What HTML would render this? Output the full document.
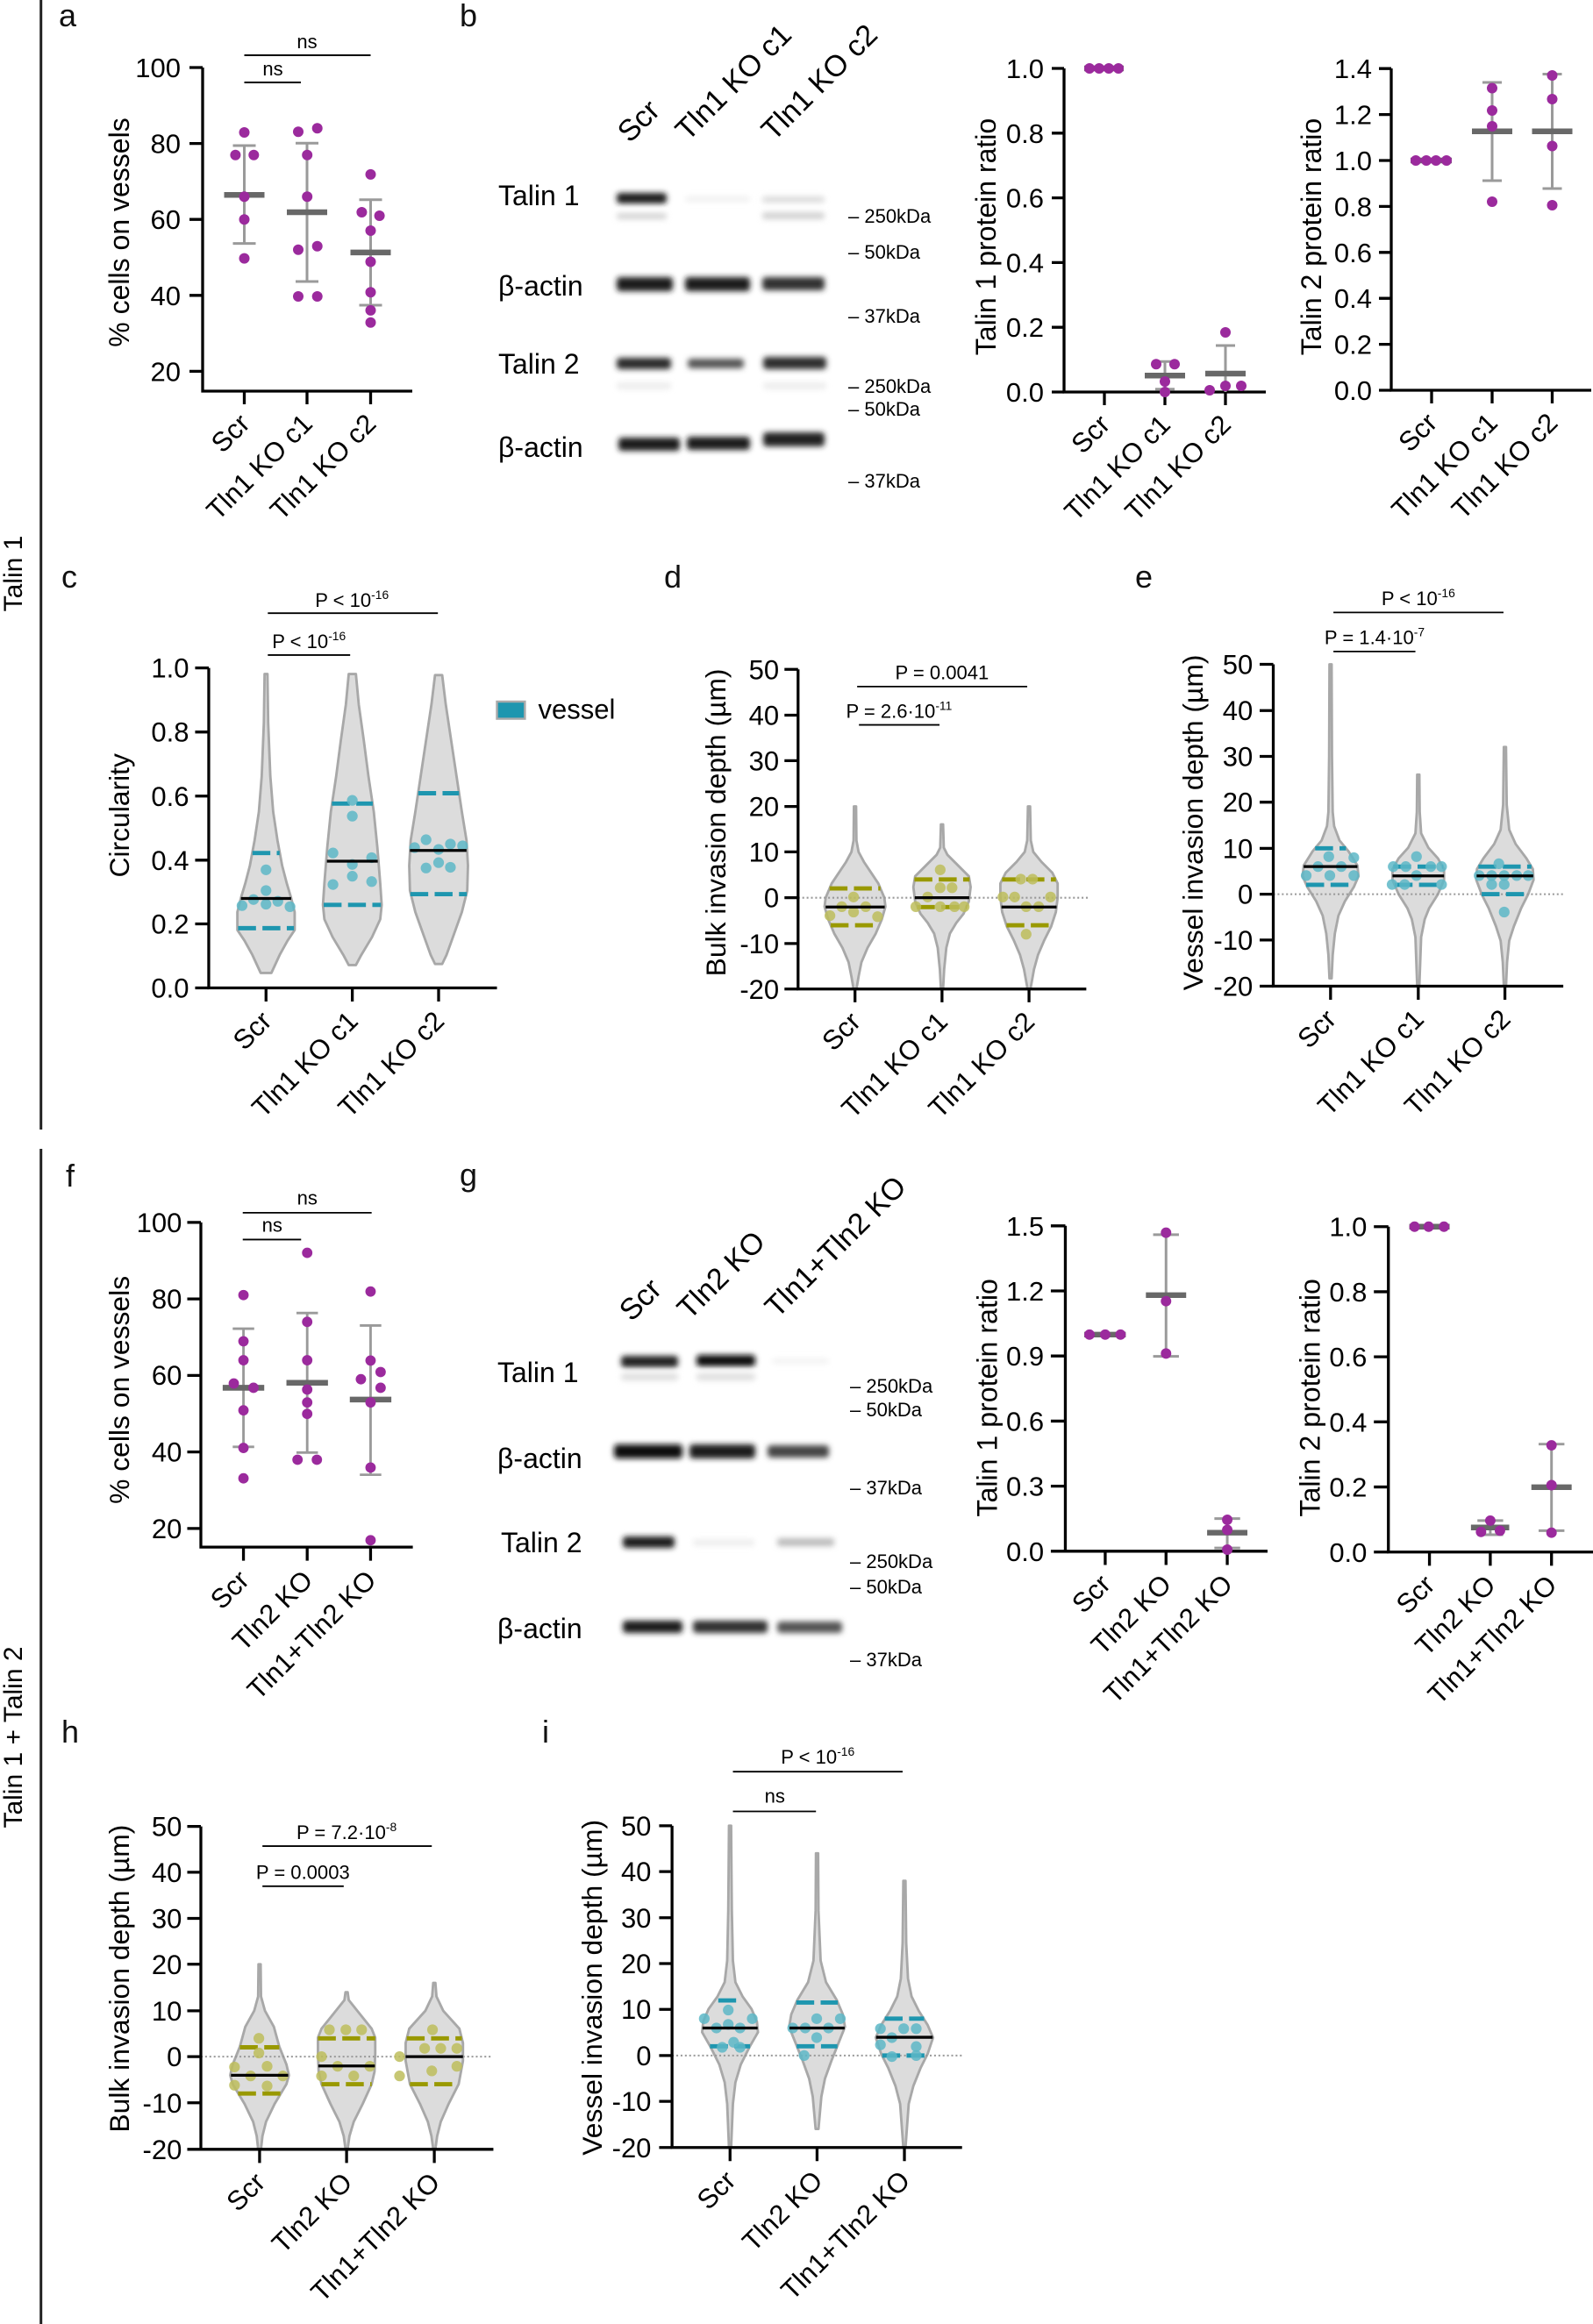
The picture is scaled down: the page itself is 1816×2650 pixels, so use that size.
<!DOCTYPE html>
<html><head><meta charset="utf-8"><style>
html,body{margin:0;padding:0;background:#fff;}
svg{display:block;font-family:"Liberation Sans",Arial,sans-serif;}
</style></head><body>
<svg width="1816" height="2650" viewBox="0 0 1816 2650" xmlns="http://www.w3.org/2000/svg">
<defs>
<filter id="bl" x="-30%" y="-150%" width="160%" height="400%"><feGaussianBlur stdDeviation="3.2"/></filter>
</defs>
<rect width="1816" height="2650" fill="#fff"/>

<!-- separators & side labels -->
<line x1="46.7" y1="0" x2="46.7" y2="1288" stroke="#222" stroke-width="3"/>
<line x1="46.7" y1="1310" x2="46.7" y2="2650" stroke="#222" stroke-width="3"/>
<text transform="translate(25,654) rotate(-90)" text-anchor="middle" font-size="30">Talin 1</text>
<text transform="translate(25,1981) rotate(-90)" text-anchor="middle" font-size="30">Talin 1 + Talin 2</text>

<!-- panel letters -->
<g font-size="36" fill="#111">
<text x="67" y="30">a</text><text x="524" y="30">b</text>
<text x="70" y="670">c</text><text x="757" y="670">d</text><text x="1294" y="670">e</text>
<text x="75" y="1353">f</text><text x="524" y="1352">g</text>
<text x="70" y="1987">h</text><text x="618" y="1987">i</text>
</g>

<!-- ================= PANEL A ================= -->
<g>
<g stroke="#000" stroke-width="3.3" fill="none">
<path d="M231,77 V446 H470"/>
<path d="M216,77 H231 M216,163.6 H231 M216,250.2 H231 M216,336.8 H231 M216,423.4 H231"/>
<path d="M278.5,446 V461 M350,446 V461 M422.5,446 V461"/>
</g>
<g font-size="31" text-anchor="end">
<text x="206" y="88">100</text><text x="206" y="174.6">80</text><text x="206" y="261.2">60</text><text x="206" y="347.8">40</text><text x="206" y="434.4">20</text>
<text transform="translate(286.5,485) rotate(-45)">Scr</text>
<text transform="translate(358,485) rotate(-45)">Tln1 KO c1</text>
<text transform="translate(430.5,485) rotate(-45)">Tln1 KO c2</text>
</g>
<text transform="translate(147,265) rotate(-90)" text-anchor="middle" font-size="32">% cells on vessels</text>
<path d="M278.5,63 H422.5 M278.5,94 H343" stroke="#000" stroke-width="2"/>
<g font-size="22" text-anchor="middle"><text x="350" y="55">ns</text><text x="311" y="86">ns</text></g>
<g stroke="#9a9a9a" stroke-width="3" fill="none">
<path d="M278.5,166 V277.6 M265.5,166 H291.5 M265.5,277.6 H291.5"/>
<path d="M350,163.3 V321 M337,163.3 H363 M337,321 H363"/>
<path d="M422.5,227.8 V348 M409.5,227.8 H435.5 M409.5,348 H435.5"/>
</g>
<g stroke="#686868" stroke-width="6.5">
<path d="M255.5,222.2 H301.5 M327,242 H373 M399.5,287.9 H445.5"/>
</g>
<g fill="#9b2a9d">
<circle cx="278.5" cy="151" r="6"/><circle cx="268.4" cy="176.7" r="6"/><circle cx="289.3" cy="176.7" r="6"/><circle cx="278.5" cy="224.2" r="6"/><circle cx="278.5" cy="250.3" r="6"/><circle cx="278.5" cy="294.6" r="6"/>
<circle cx="340" cy="150.3" r="6"/><circle cx="361.7" cy="146.3" r="6"/><circle cx="350.2" cy="176.7" r="6"/><circle cx="350.2" cy="224.2" r="6"/><circle cx="340" cy="284.7" r="6"/><circle cx="361.7" cy="280.7" r="6"/><circle cx="340" cy="338" r="6"/><circle cx="361.7" cy="338" r="6"/>
<circle cx="422.5" cy="198.9" r="6"/><circle cx="412.4" cy="242" r="6"/><circle cx="432.6" cy="246" r="6"/><circle cx="422.5" cy="263" r="6"/><circle cx="422.5" cy="298.5" r="6"/><circle cx="422.5" cy="333.3" r="6"/><circle cx="422.5" cy="353.9" r="6"/><circle cx="422.5" cy="367.7" r="6"/>
</g>
</g>

<!-- ================= PANEL B BLOT ================= -->
<g>
<g font-size="34">
<text transform="translate(718,164) rotate(-45)">Scr</text>
<text transform="translate(784,162) rotate(-45)">Tln1 KO c1</text>
<text transform="translate(882,162) rotate(-45)">Tln1 KO c2</text>
</g>
<g font-size="32">
<text x="568" y="234">Talin 1</text>
<text x="568" y="337">β-actin</text>
<text x="568" y="426">Talin 2</text>
<text x="568" y="521">β-actin</text>
</g>
<g font-size="22">
<text x="967" y="254">– 250kDa</text>
<text x="967" y="295">– 50kDa</text>
<text x="967" y="368">– 37kDa</text>
<text x="967" y="448">– 250kDa</text>
<text x="967" y="474">– 50kDa</text>
<text x="967" y="556">– 37kDa</text>
</g>
<g filter="url(#bl)">
<rect x="703" y="220" width="57" height="12" rx="4" fill="#1a1a1a"/>
<rect x="703" y="243" width="57" height="7" rx="3" fill="#d4d4d4"/>
<rect x="781" y="224" width="74" height="6" rx="3" fill="#f0f0f0"/>
<rect x="869" y="224" width="71" height="7" rx="3" fill="#dadada"/>
<rect x="869" y="242" width="71" height="8" rx="3" fill="#d2d2d2"/>
<rect x="703" y="316" width="64" height="16" rx="4" fill="#1c1c1c"/>
<rect x="781" y="316" width="74" height="16" rx="4" fill="#1a1a1a"/>
<rect x="869" y="316" width="71" height="15" rx="4" fill="#333"/>
<rect x="703" y="408" width="62" height="13" rx="4" fill="#2a2a2a"/>
<rect x="784" y="409" width="64" height="11" rx="4" fill="#555"/>
<rect x="870" y="407" width="72" height="14" rx="4" fill="#2f2f2f"/>
<rect x="703" y="436" width="62" height="8" rx="3" fill="#ededed"/>
<rect x="870" y="436" width="72" height="8" rx="3" fill="#ededed"/>
<rect x="705" y="499" width="70" height="15" rx="4" fill="#1a1a1a"/>
<rect x="783" y="498" width="72" height="15" rx="4" fill="#1e1e1e"/>
<rect x="870" y="493" width="70" height="16" rx="4" fill="#222"/>
</g>
</g>

<!-- ================= PANEL B TALIN 1 CHART ================= -->
<g>
<g stroke="#000" stroke-width="3.3" fill="none">
<path d="M1213,78 V447 H1443"/>
<path d="M1199,78 H1213 M1199,151.8 H1213 M1199,225.6 H1213 M1199,299.4 H1213 M1199,373.2 H1213 M1199,447 H1213"/>
<path d="M1259,447 V462 M1328,447 V462 M1397,447 V462"/>
</g>
<g font-size="31" text-anchor="end">
<text x="1190" y="89">1.0</text><text x="1190" y="162.8">0.8</text><text x="1190" y="236.6">0.6</text><text x="1190" y="310.4">0.4</text><text x="1190" y="384.2">0.2</text><text x="1190" y="458">0.0</text>
<text transform="translate(1267,486) rotate(-45)">Scr</text>
<text transform="translate(1336,486) rotate(-45)">Tln1 KO c1</text>
<text transform="translate(1405,486) rotate(-45)">Tln1 KO c2</text>
</g>
<text transform="translate(1135,270) rotate(-90)" text-anchor="middle" font-size="32">Talin 1 protein ratio</text>
<g stroke="#9a9a9a" stroke-width="3" fill="none">
<path d="M1328,412.3 V443.7 M1317,412.3 H1339 M1317,443.7 H1339"/>
<path d="M1397,394 V447 M1386,394 H1408"/>
</g>
<g stroke="#686868" stroke-width="6.5"><path d="M1305,428.2 H1351 M1374,426 H1420 M1236,78 H1281"/></g>
<g fill="#9b2a9d">
<circle cx="1242" cy="78" r="6"/><circle cx="1253" cy="78" r="6"/><circle cx="1264" cy="78" r="6"/><circle cx="1275" cy="78" r="6"/>
<circle cx="1318" cy="415.3" r="6"/><circle cx="1339" cy="415.3" r="6"/><circle cx="1328" cy="435" r="6"/><circle cx="1328" cy="447" r="6"/>
<circle cx="1397" cy="379" r="6"/><circle cx="1379" cy="445" r="6"/><circle cx="1397" cy="440" r="6"/><circle cx="1415" cy="440" r="6"/>
</g>
</g>

<!-- ================= PANEL B TALIN 2 CHART ================= -->
<g>
<g stroke="#000" stroke-width="3.3" fill="none">
<path d="M1586,78 V445 H1814"/>
<path d="M1572,78.2 H1586 M1572,130.6 H1586 M1572,183 H1586 M1572,235.4 H1586 M1572,287.8 H1586 M1572,340.2 H1586 M1572,392.6 H1586 M1572,445 H1586"/>
<path d="M1632,445 V460 M1701,445 V460 M1769.5,445 V460"/>
</g>
<g font-size="31" text-anchor="end">
<text x="1564" y="89">1.4</text><text x="1564" y="141.6">1.2</text><text x="1564" y="194">1.0</text><text x="1564" y="246.4">0.8</text><text x="1564" y="298.8">0.6</text><text x="1564" y="351.2">0.4</text><text x="1564" y="403.6">0.2</text><text x="1564" y="456">0.0</text>
<text transform="translate(1640,484) rotate(-45)">Scr</text>
<text transform="translate(1709,484) rotate(-45)">Tln1 KO c1</text>
<text transform="translate(1777.5,484) rotate(-45)">Tln1 KO c2</text>
</g>
<text transform="translate(1506,270) rotate(-90)" text-anchor="middle" font-size="32">Talin 2 protein ratio</text>
<g stroke="#9a9a9a" stroke-width="3" fill="none">
<path d="M1701,94 V206 M1690,94 H1712 M1690,206 H1712"/>
<path d="M1769.5,84.5 V215 M1758.5,84.5 H1780.5 M1758.5,215 H1780.5"/>
</g>
<g stroke="#686868" stroke-width="6.5"><path d="M1678,149.7 H1724 M1746.5,149.7 H1792.5 M1608,183 H1655"/></g>
<g fill="#9b2a9d">
<circle cx="1614" cy="183" r="6"/><circle cx="1626" cy="183" r="6"/><circle cx="1637" cy="183" r="6"/><circle cx="1649" cy="183" r="6"/>
<circle cx="1701" cy="100.5" r="6"/><circle cx="1701" cy="126" r="6"/><circle cx="1701" cy="144" r="6"/><circle cx="1701" cy="230" r="6"/>
<circle cx="1769.5" cy="86" r="6"/><circle cx="1769.5" cy="113" r="6"/><circle cx="1769.5" cy="166.5" r="6"/><circle cx="1769.5" cy="234" r="6"/>
</g>
</g>

<!-- ================= PANEL C ================= -->
<g transform="translate(40,640) scale(0.408163)">
<g fill="#dcdcdc" stroke="#a8a8a8" stroke-width="7" stroke-linejoin="round">
<path d="M641,315 L639,450 L633,600 L625,700 L613,780 L600,850 L587,900 L575,940 L565,980 L565,1030 L585,1060 L607,1100 L630,1150 L660,1150 L683,1100 L705,1060 L725,1030 L725,980 L715,940 L703,900 L690,850 L677,780 L665,700 L657,600 L651,450 L649,315 Z"/>
<path d="M876,315 L868,400 L854,500 L841,600 L826,700 L816,800 L808,900 L804,960 L808,1000 L831,1050 L861,1100 L876,1128 L896,1128 L911,1100 L941,1050 L964,1000 L968,960 L964,900 L956,800 L946,700 L931,600 L918,500 L904,400 L896,315 Z"/>
<path d="M1117,318 L1107,400 L1092,500 L1077,600 L1062,700 L1049,780 L1045,850 L1047,920 L1062,980 L1087,1050 L1105,1100 L1117,1125 L1137,1125 L1149,1100 L1167,1050 L1192,980 L1207,920 L1209,850 L1205,780 L1192,700 L1177,600 L1162,500 L1147,400 L1137,318 Z"/>
</g>
<g stroke="#1e96af" stroke-width="12" stroke-dasharray="50,18">
<path d="M607,815 H683 M567,1025 H723 M829,677 H943 M806,960 H966 M1070,648 H1184 M1048,930 H1206"/>
</g>
<g fill="#5db7c7" fill-opacity="0.85">
<circle cx="645" cy="862" r="15"/><circle cx="645" cy="920" r="15"/><circle cx="578" cy="962" r="15"/><circle cx="610" cy="945" r="15"/><circle cx="645" cy="958" r="15"/><circle cx="678" cy="950" r="15"/><circle cx="712" cy="965" r="15"/>
<circle cx="886" cy="668" r="15"/><circle cx="886" cy="712" r="15"/><circle cx="832" cy="815" r="15"/><circle cx="940" cy="828" r="15"/><circle cx="886" cy="847" r="15"/><circle cx="886" cy="880" r="15"/><circle cx="832" cy="903" r="15"/><circle cx="940" cy="895" r="15"/>
<circle cx="1092" cy="778" r="15"/><circle cx="1060" cy="800" r="15"/><circle cx="1127" cy="805" r="15"/><circle cx="1160" cy="790" r="15"/><circle cx="1194" cy="795" r="15"/><circle cx="1127" cy="842" r="15"/><circle cx="1092" cy="857" r="15"/><circle cx="1160" cy="855" r="15"/>
</g>
<g stroke="#000" stroke-width="8"><path d="M575,942 H715 M815,838 H957 M1047,808 H1205"/></g>
<g stroke="#000" stroke-width="8" fill="none">
<path d="M485,298 V1192 H1290"/>
<path d="M447,298 H485 M447,477 H485 M447,656 H485 M447,835 H485 M447,1013 H485 M447,1192 H485"/>
<path d="M645,1192 V1230 M886,1192 V1230 M1127,1192 V1230"/>
</g>
<g font-size="76" text-anchor="end">
<text x="430" y="325">1.0</text><text x="430" y="504">0.8</text><text x="430" y="683">0.6</text><text x="430" y="862">0.4</text><text x="430" y="1040">0.2</text><text x="430" y="1219">0.0</text>
<text transform="translate(665,1289) rotate(-45)">Scr</text>
<text transform="translate(906,1289) rotate(-45)">Tln1 KO c1</text>
<text transform="translate(1147,1289) rotate(-45)">Tln1 KO c2</text>
</g>
<text transform="translate(262,710) rotate(-90)" text-anchor="middle" font-size="78">Circularity</text>
<path d="M650,145 H1125 M650,262 H880" stroke="#000" stroke-width="4.5"/>
<g font-size="54" text-anchor="middle">
<text x="885" y="127">P &lt; 10<tspan dy="-22" font-size="34">-16</tspan></text>
<text x="765" y="242">P &lt; 10<tspan dy="-22" font-size="34">-16</tspan></text>
</g>
<rect x="1290" y="392" width="78" height="48" fill="#1e96af" stroke="#aaa" stroke-width="6"/>
<text x="1405" y="440" font-size="76">vessel</text>
</g>

<!-- ================= PANEL D ================= -->
<g transform="translate(680,640) scale(0.408163)">
<g fill="#dcdcdc" stroke="#a8a8a8" stroke-width="7" stroke-linejoin="round">
<path d="M719,685 L718,780 L712,812 L697,840 L677,870 L657,900 L640,940 L637,965 L647,1000 L664,1040 L687,1080 L704,1120 L712,1160 L718,1195 L726,1195 L732,1160 L740,1120 L757,1080 L780,1040 L797,1000 L807,965 L804,940 L787,900 L767,870 L747,840 L732,812 L726,780 L725,685 Z"/>
<path d="M962,735 L960,800 L950,820 L920,850 L890,880 L885,910 L890,950 L905,985 L925,1010 L943,1040 L953,1080 L959,1140 L962,1195 L968,1195 L971,1140 L977,1080 L987,1040 L1005,1010 L1025,985 L1040,950 L1045,910 L1040,880 L1010,850 L980,820 L970,800 L968,735 Z"/>
<path d="M1205,685 L1203,780 L1196,812 L1173,840 L1143,870 L1128,900 L1128,940 L1133,980 L1146,1020 L1166,1060 L1183,1100 L1194,1140 L1204,1195 L1212,1195 L1222,1140 L1233,1100 L1250,1060 L1270,1020 L1283,980 L1288,940 L1288,900 L1273,870 L1243,840 L1220,812 L1213,780 L1211,685 Z"/>
</g>
<path d="M563,940 H1375" stroke="#999" stroke-width="5" stroke-dasharray="5,7"/>
<g stroke="#999900" stroke-width="12" stroke-dasharray="50,18">
<path d="M651,914 H793 M654,1017 H790 M888,889 H1042 M895,966 H1035 M1133,889 H1283 M1145,1017 H1271"/>
</g>
<g fill="#bdbd5c" fill-opacity="0.85">
<circle cx="718" cy="938" r="15"/><circle cx="685" cy="965" r="15"/><circle cx="752" cy="965" r="15"/><circle cx="718" cy="980" r="15"/><circle cx="652" cy="990" r="15"/><circle cx="785" cy="993" r="15"/>
<circle cx="960" cy="862" r="15"/><circle cx="960" cy="912" r="15"/><circle cx="993" cy="912" r="15"/><circle cx="925" cy="938" r="15"/><circle cx="892" cy="965" r="15"/><circle cx="960" cy="965" r="15"/><circle cx="1000" cy="965" r="15"/><circle cx="1027" cy="965" r="15"/>
<circle cx="1185" cy="888" r="15"/><circle cx="1218" cy="888" r="15"/><circle cx="1135" cy="938" r="15"/><circle cx="1168" cy="938" r="15"/><circle cx="1268" cy="938" r="15"/><circle cx="1200" cy="965" r="15"/><circle cx="1235" cy="965" r="15"/><circle cx="1200" cy="1042" r="15"/>
</g>
<g stroke="#000" stroke-width="8"><path d="M640,966 H805 M889,940 H1041 M1131,966 H1285"/></g>
<g stroke="#000" stroke-width="8" fill="none">
<path d="M563,302 V1195 H1368"/>
<path d="M525,302 H563 M525,430 H563 M525,557 H563 M525,685 H563 M525,812 H563 M525,940 H563 M525,1068 H563 M525,1195 H563"/>
<path d="M722,1195 V1232 M965,1195 V1232 M1208,1195 V1232"/>
</g>
<g font-size="76" text-anchor="end">
<text x="510" y="329">50</text><text x="510" y="457">40</text><text x="510" y="584">30</text><text x="510" y="712">20</text><text x="510" y="839">10</text><text x="510" y="967">0</text><text x="510" y="1095">-10</text><text x="510" y="1222">-20</text>
<text transform="translate(742,1291) rotate(-45)">Scr</text>
<text transform="translate(985,1291) rotate(-45)">Tln1 KO c1</text>
<text transform="translate(1228,1291) rotate(-45)">Tln1 KO c2</text>
</g>
<text transform="translate(360,730) rotate(-90)" text-anchor="middle" font-size="78">Bulk invasion depth (µm)</text>
<path d="M728,350 H1203 M733,457 H958" stroke="#000" stroke-width="4.5"/>
<g font-size="54" text-anchor="middle">
<text x="965" y="330">P = 0.0041</text>
<text x="845" y="437">P = 2.6·10<tspan dy="-22" font-size="34">-11</tspan></text>
</g>
</g>

<!-- ================= PANEL E ================= -->
<g transform="translate(1176,640) scale(0.408163)">
<g fill="#dcdcdc" stroke="#a8a8a8" stroke-width="7" stroke-linejoin="round">
<path d="M832,288 L831,545 L829,700 L825,740 L810,780 L785,810 L760,850 L757,880 L770,910 L795,950 L813,990 L823,1040 L829,1100 L832,1165 L838,1165 L841,1100 L847,1040 L857,990 L875,950 L900,910 L913,880 L910,850 L885,810 L860,780 L845,740 L841,700 L839,545 L838,288 Z"/>
<path d="M1077,596 L1076,700 L1072,760 L1052,800 L1025,830 L1008,860 L1008,890 L1025,930 L1050,970 L1062,1000 L1072,1050 L1077,1187 L1083,1187 L1088,1050 L1098,1000 L1110,970 L1135,930 L1152,890 L1152,860 L1135,830 L1108,800 L1088,760 L1084,700 L1083,596 Z"/>
<path d="M1319,519 L1317,680 L1310,750 L1292,790 L1262,830 L1244,860 L1242,890 L1257,930 L1277,970 L1297,1020 L1310,1060 L1316,1120 L1319,1187 L1325,1187 L1328,1120 L1334,1060 L1347,1020 L1367,970 L1387,930 L1402,890 L1400,860 L1382,830 L1352,790 L1334,750 L1327,680 L1325,519 Z"/>
</g>
<path d="M675,930 H1485" stroke="#999" stroke-width="5" stroke-dasharray="5,7"/>
<g stroke="#1e96af" stroke-width="12" stroke-dasharray="50,18">
<path d="M792,802 H878 M767,904 H903 M1010,853 H1150 M1014,904 H1146 M1248,853 H1396 M1257,930 H1387"/>
</g>
<g fill="#5db7c7" fill-opacity="0.85">
<circle cx="830" cy="825" r="15"/><circle cx="800" cy="853" r="15"/><circle cx="865" cy="853" r="15"/><circle cx="900" cy="828" r="15"/><circle cx="767" cy="878" r="15"/><circle cx="833" cy="878" r="15"/><circle cx="900" cy="878" r="15"/>
<circle cx="1075" cy="825" r="15"/><circle cx="1010" cy="853" r="15"/><circle cx="1045" cy="853" r="15"/><circle cx="1115" cy="853" r="15"/><circle cx="1145" cy="853" r="15"/><circle cx="1075" cy="878" r="15"/><circle cx="1007" cy="903" r="15"/><circle cx="1042" cy="903" r="15"/><circle cx="1145" cy="903" r="15"/>
<circle cx="1305" cy="845" r="15"/><circle cx="1250" cy="878" r="15"/><circle cx="1285" cy="878" r="15"/><circle cx="1320" cy="878" r="15"/><circle cx="1355" cy="878" r="15"/><circle cx="1387" cy="878" r="15"/><circle cx="1320" cy="903" r="15"/><circle cx="1285" cy="903" r="15"/><circle cx="1320" cy="980" r="15"/>
</g>
<g stroke="#000" stroke-width="8"><path d="M760,853 H910 M1008,879 H1152 M1243,879 H1401"/></g>
<g stroke="#000" stroke-width="8" fill="none">
<path d="M675,288 V1187 H1485"/>
<path d="M637,288 H675 M637,417 H675 M637,545 H675 M637,673 H675 M637,802 H675 M637,930 H675 M637,1058 H675 M637,1187 H675"/>
<path d="M835,1187 V1225 M1080,1187 V1225 M1322,1187 V1225"/>
</g>
<g font-size="76" text-anchor="end">
<text x="618" y="315">50</text><text x="618" y="444">40</text><text x="618" y="572">30</text><text x="618" y="700">20</text><text x="618" y="829">10</text><text x="618" y="957">0</text><text x="618" y="1085">-10</text><text x="618" y="1214">-20</text>
<text transform="translate(855,1284) rotate(-45)">Scr</text>
<text transform="translate(1100,1284) rotate(-45)">Tln1 KO c1</text>
<text transform="translate(1342,1284) rotate(-45)">Tln1 KO c2</text>
</g>
<text transform="translate(478,730) rotate(-90)" text-anchor="middle" font-size="78">Vessel invasion depth (µm)</text>
<path d="M843,143 H1318 M843,252 H1072" stroke="#000" stroke-width="4.5"/>
<g font-size="54" text-anchor="middle">
<text x="1080" y="122">P &lt; 10<tspan dy="-22" font-size="34">-16</tspan></text>
<text x="958" y="232">P = 1.4·10<tspan dy="-22" font-size="34">-7</tspan></text>
</g>
</g>

<!-- ================= PANEL F ================= -->
<g transform="translate(40,1300) scale(0.408163)">
<g stroke="#000" stroke-width="8" fill="none">
<path d="M463,230 V1137 H1055"/>
<path d="M425,230 H463 M425,443.75 H463 M425,657.5 H463 M425,871.25 H463 M425,1085 H463"/>
<path d="M582,1137 V1175 M760,1137 V1175 M937,1137 V1175"/>
</g>
<g font-size="76" text-anchor="end">
<text x="410" y="257">100</text><text x="410" y="471">80</text><text x="410" y="684">60</text><text x="410" y="898">40</text><text x="410" y="1112">20</text>
<text transform="translate(602,1234) rotate(-45)">Scr</text>
<text transform="translate(780,1234) rotate(-45)">Tln2 KO</text>
<text transform="translate(957,1234) rotate(-45)">Tln1+Tln2 KO</text>
</g>
<text transform="translate(262,698) rotate(-90)" text-anchor="middle" font-size="78">% cells on vessels</text>
<path d="M580,203 H940 M580,278 H743" stroke="#000" stroke-width="4.5"/>
<g font-size="54" text-anchor="middle"><text x="760" y="180">ns</text><text x="662" y="256">ns</text></g>
<g stroke="#9a9a9a" stroke-width="7" fill="none">
<path d="M582,527 V857 M552,527 H612 M552,857 H612"/>
<path d="M760,483 V873 M730,483 H790 M730,873 H790"/>
<path d="M937,518 V935 M907,518 H967 M907,935 H967"/>
</g>
<g stroke="#686868" stroke-width="16"><path d="M524,692 H640 M702,678 H818 M879,725 H995"/></g>
<g fill="#9b2a9d">
<circle cx="582" cy="433" r="14.5"/><circle cx="582" cy="562" r="14.5"/><circle cx="582" cy="615" r="14.5"/><circle cx="555" cy="680" r="14.5"/><circle cx="610" cy="692" r="14.5"/><circle cx="582" cy="755" r="14.5"/><circle cx="582" cy="860" r="14.5"/><circle cx="582" cy="945" r="14.5"/>
<circle cx="760" cy="315" r="14.5"/><circle cx="760" cy="508" r="14.5"/><circle cx="760" cy="615" r="14.5"/><circle cx="760" cy="697" r="14.5"/><circle cx="760" cy="733" r="14.5"/><circle cx="760" cy="765" r="14.5"/><circle cx="733" cy="893" r="14.5"/><circle cx="787" cy="893" r="14.5"/>
<circle cx="937" cy="423" r="14.5"/><circle cx="937" cy="616" r="14.5"/><circle cx="910" cy="668" r="14.5"/><circle cx="965" cy="648" r="14.5"/><circle cx="965" cy="692" r="14.5"/><circle cx="937" cy="733" r="14.5"/><circle cx="937" cy="915" r="14.5"/><circle cx="937" cy="1118" r="14.5"/>
</g>
</g>

<!-- ================= PANEL G BLOT ================= -->
<g>
<g font-size="34">
<text transform="translate(720,1508) rotate(-45)">Scr</text>
<text transform="translate(786,1506) rotate(-45)">Tln2 KO</text>
<text transform="translate(886,1504) rotate(-45)">Tln1+Tln2 KO</text>
</g>
<g font-size="32">
<text x="567" y="1576">Talin 1</text>
<text x="567" y="1674">β-actin</text>
<text x="571" y="1770">Talin 2</text>
<text x="567" y="1868">β-actin</text>
</g>
<g font-size="22">
<text x="969" y="1588">– 250kDa</text>
<text x="969" y="1615">– 50kDa</text>
<text x="969" y="1704">– 37kDa</text>
<text x="969" y="1788">– 250kDa</text>
<text x="969" y="1817">– 50kDa</text>
<text x="969" y="1900">– 37kDa</text>
</g>
<g filter="url(#bl)">
<rect x="708" y="1546" width="65" height="13" rx="4" fill="#222"/>
<rect x="794" y="1545" width="67" height="13" rx="4" fill="#111"/>
<rect x="708" y="1566" width="65" height="8" rx="3" fill="#dedede"/>
<rect x="794" y="1566" width="67" height="8" rx="3" fill="#dedede"/>
<rect x="880" y="1549" width="65" height="6" rx="3" fill="#f2f2f2"/>
<rect x="700" y="1647" width="78" height="16" rx="4" fill="#111"/>
<rect x="786" y="1647" width="75" height="16" rx="4" fill="#1a1a1a"/>
<rect x="875" y="1648" width="70" height="14" rx="4" fill="#444"/>
<rect x="710" y="1752" width="59" height="13" rx="4" fill="#1a1a1a"/>
<rect x="790" y="1755" width="70" height="8" rx="3" fill="#eeeeee"/>
<rect x="886" y="1754" width="65" height="9" rx="3" fill="#bbbbbb"/>
<rect x="710" y="1848" width="68" height="14" rx="4" fill="#1a1a1a"/>
<rect x="790" y="1848" width="85" height="14" rx="4" fill="#333"/>
<rect x="886" y="1849" width="74" height="13" rx="4" fill="#555"/>
</g>
</g>

<!-- ================= PANEL G CHARTS ================= -->
<g transform="translate(1096,1300) scale(0.459184)">
<g stroke="#000" stroke-width="7.2" fill="none">
<path d="M258,213 V1021 H760"/>
<path d="M222,213 H258 M222,374.6 H258 M222,536.2 H258 M222,697.8 H258 M222,859.4 H258 M222,1021 H258"/>
<path d="M357,1021 V1055 M508,1021 V1055 M660,1021 V1055"/>
<path d="M1060,215 V1023 H1570"/>
<path d="M1024,215 H1060 M1024,376.6 H1060 M1024,538.2 H1060 M1024,699.8 H1060 M1024,861.4 H1060 M1024,1023 H1060"/>
<path d="M1162,1023 V1057 M1313,1023 V1057 M1465,1023 V1057"/>
</g>
<g font-size="67.5" text-anchor="end">
<text x="205" y="237">1.5</text><text x="205" y="398.6">1.2</text><text x="205" y="560.2">0.9</text><text x="205" y="721.8">0.6</text><text x="205" y="883.4">0.3</text><text x="205" y="1045">0.0</text>
<text transform="translate(374,1107) rotate(-45)">Scr</text>
<text transform="translate(525,1107) rotate(-45)">Tln2 KO</text>
<text transform="translate(677,1107) rotate(-45)">Tln1+Tln2 KO</text>
<text x="1007" y="239">1.0</text><text x="1007" y="400.6">0.8</text><text x="1007" y="562.2">0.6</text><text x="1007" y="723.8">0.4</text><text x="1007" y="885.4">0.2</text><text x="1007" y="1047">0.0</text>
<text transform="translate(1179,1109) rotate(-45)">Scr</text>
<text transform="translate(1330,1109) rotate(-45)">Tln2 KO</text>
<text transform="translate(1482,1109) rotate(-45)">Tln1+Tln2 KO</text>
</g>
<text transform="translate(88,640) rotate(-90)" text-anchor="middle" font-size="70">Talin 1 protein ratio</text>
<text transform="translate(890,640) rotate(-90)" text-anchor="middle" font-size="70">Talin 2 protein ratio</text>
<g stroke="#9a9a9a" stroke-width="6.5" fill="none">
<path d="M508,235 V537 M476,235 H540 M476,537 H540"/>
<path d="M660,940 V1013 M628,940 H692 M628,1013 H692"/>
<path d="M1313,945 V980 M1281,945 H1345 M1281,980 H1345"/>
<path d="M1465,755 V970 M1433,755 H1497 M1433,970 H1497"/>
</g>
<g stroke="#686868" stroke-width="14"><path d="M305,483 H408 M458,385 H558 M610,975 H710 M1112,215 H1212 M1265,962 H1360 M1415,862 H1515"/></g>
<g fill="#9b2a9d">
<circle cx="318" cy="483" r="13"/><circle cx="357" cy="483" r="13"/><circle cx="395" cy="483" r="13"/>
<circle cx="508" cy="230" r="13"/><circle cx="508" cy="400" r="13"/><circle cx="508" cy="530" r="13"/>
<circle cx="660" cy="943" r="13"/><circle cx="660" cy="968" r="13"/><circle cx="660" cy="1017" r="13"/>
<circle cx="1125" cy="215" r="13"/><circle cx="1160" cy="215" r="13"/><circle cx="1198" cy="215" r="13"/>
<circle cx="1313" cy="945" r="13"/><circle cx="1290" cy="973" r="13"/><circle cx="1337" cy="970" r="13"/>
<circle cx="1465" cy="758" r="13"/><circle cx="1465" cy="857" r="13"/><circle cx="1465" cy="975" r="13"/>
</g>
</g>

<!-- ================= PANEL H ================= -->
<g transform="translate(40,1950) scale(0.408163)">
<g fill="#dcdcdc" stroke="#a8a8a8" stroke-width="7" stroke-linejoin="round">
<path d="M624,710 L623,800 L612,840 L587,885 L572,940 L552,990 L545,1020 L552,1045 L585,1100 L609,1150 L619,1190 L623,1226 L631,1226 L635,1190 L645,1150 L669,1100 L702,1045 L709,1020 L702,990 L682,940 L667,885 L642,840 L631,800 L630,710 Z"/>
<path d="M867,788 L864,810 L840,840 L800,890 L790,915 L790,960 L792,1010 L800,1045 L825,1100 L850,1150 L862,1190 L867,1226 L873,1226 L878,1190 L890,1150 L915,1100 L940,1045 L948,1010 L950,960 L950,915 L940,890 L900,840 L876,810 L873,788 Z"/>
<path d="M1112,762 L1109,800 L1090,840 L1045,890 L1035,930 L1035,980 L1047,1045 L1075,1100 L1097,1150 L1107,1190 L1112,1226 L1118,1226 L1123,1190 L1133,1150 L1155,1100 L1183,1045 L1195,980 L1195,930 L1185,890 L1140,840 L1121,800 L1118,762 Z"/>
</g>
<path d="M463,968 H1275" stroke="#999" stroke-width="5" stroke-dasharray="5,7"/>
<g stroke="#999900" stroke-width="12" stroke-dasharray="50,18">
<path d="M572,942 H682 M567,1071 H687 M790,917 H950 M800,1045 H940 M1038,917 H1192 M1047,1045 H1183"/>
</g>
<g fill="#bdbd5c" fill-opacity="0.85">
<circle cx="625" cy="917" r="15"/><circle cx="625" cy="958" r="15"/><circle cx="557" cy="997" r="15"/><circle cx="648" cy="995" r="15"/><circle cx="602" cy="1022" r="15"/><circle cx="692" cy="1022" r="15"/><circle cx="557" cy="1048" r="15"/><circle cx="648" cy="1050" r="15"/>
<circle cx="822" cy="893" r="15"/><circle cx="868" cy="893" r="15"/><circle cx="912" cy="893" r="15"/><circle cx="800" cy="968" r="15"/><circle cx="845" cy="995" r="15"/><circle cx="935" cy="995" r="15"/><circle cx="890" cy="1022" r="15"/><circle cx="800" cy="1022" r="15"/>
<circle cx="1110" cy="893" r="15"/><circle cx="1088" cy="945" r="15"/><circle cx="1133" cy="945" r="15"/><circle cx="1178" cy="945" r="15"/><circle cx="1018" cy="968" r="15"/><circle cx="1178" cy="995" r="15"/><circle cx="1108" cy="1008" r="15"/><circle cx="1018" cy="1022" r="15"/>
</g>
<g stroke="#000" stroke-width="8"><path d="M547,1020 H707 M791,994 H949 M1035,968 H1195"/></g>
<g stroke="#000" stroke-width="8" fill="none">
<path d="M463,325 V1227 H1280"/>
<path d="M425,325 H463 M425,453 H463 M425,582 H463 M425,710 H463 M425,840 H463 M425,968 H463 M425,1097 H463 M425,1227 H463"/>
<path d="M627,1227 V1265 M870,1227 V1265 M1115,1227 V1265"/>
</g>
<g font-size="76" text-anchor="end">
<text x="410" y="352">50</text><text x="410" y="480">40</text><text x="410" y="609">30</text><text x="410" y="737">20</text><text x="410" y="867">10</text><text x="410" y="995">0</text><text x="410" y="1124">-10</text><text x="410" y="1254">-20</text>
<text transform="translate(647,1324) rotate(-45)">Scr</text>
<text transform="translate(890,1324) rotate(-45)">Tln2 KO</text>
<text transform="translate(1135,1324) rotate(-45)">Tln1+Tln2 KO</text>
</g>
<text transform="translate(262,750) rotate(-90)" text-anchor="middle" font-size="78">Bulk invasion depth (µm)</text>
<path d="M635,380 H1108 M635,492 H862" stroke="#000" stroke-width="4.5"/>
<g font-size="54" text-anchor="middle">
<text x="870" y="360">P = 7.2·10<tspan dy="-22" font-size="34">-8</tspan></text>
<text x="748" y="472">P = 0.0003</text>
</g>
</g>

<!-- ================= PANEL I ================= -->
<g transform="translate(620,1950) scale(0.408163)">
<g fill="#dcdcdc" stroke="#a8a8a8" stroke-width="7" stroke-linejoin="round">
<path d="M517,323 L516,450 L515,560 L512,700 L505,760 L485,800 L460,835 L445,870 L442,900 L465,940 L490,990 L505,1040 L512,1100 L517,1222 L523,1222 L528,1100 L535,1040 L550,990 L575,940 L598,900 L595,870 L580,835 L555,800 L535,760 L528,700 L525,560 L524,450 L523,323 Z"/>
<path d="M760,400 L759,560 L753,700 L738,760 L708,810 L691,850 L685,885 L703,930 L723,980 L741,1030 L751,1080 L759,1170 L767,1170 L775,1080 L785,1030 L803,980 L823,930 L841,885 L835,850 L818,810 L788,760 L773,700 L767,560 L766,400 Z"/>
<path d="M1004,477 L1002,650 L997,750 L987,800 L967,840 L942,880 L927,915 L942,960 L962,1000 L982,1050 L995,1100 L1004,1222 L1010,1222 L1019,1100 L1032,1050 L1052,1000 L1072,960 L1087,915 L1072,880 L1047,840 L1027,800 L1017,750 L1012,650 L1010,477 Z"/>
</g>
<path d="M358,965 H1168" stroke="#999" stroke-width="5" stroke-dasharray="5,7"/>
<g stroke="#1e96af" stroke-width="12" stroke-dasharray="50,18">
<path d="M487,811 H553 M464,939 H576 M705,817 H821 M706,939 H820 M952,862 H1062 M945,965 H1069"/>
</g>
<g fill="#5db7c7" fill-opacity="0.85">
<circle cx="515" cy="838" r="15"/><circle cx="448" cy="862" r="15"/><circle cx="582" cy="862" r="15"/><circle cx="515" cy="878" r="15"/><circle cx="482" cy="888" r="15"/><circle cx="548" cy="888" r="15"/><circle cx="530" cy="928" r="15"/><circle cx="498" cy="942" r="15"/><circle cx="548" cy="942" r="15"/>
<circle cx="762" cy="862" r="15"/><circle cx="828" cy="862" r="15"/><circle cx="695" cy="888" r="15"/><circle cx="730" cy="888" r="15"/><circle cx="795" cy="888" r="15"/><circle cx="762" cy="915" r="15"/><circle cx="727" cy="965" r="15"/>
<circle cx="940" cy="890" r="15"/><circle cx="1005" cy="890" r="15"/><circle cx="1040" cy="890" r="15"/><circle cx="972" cy="915" r="15"/><circle cx="940" cy="935" r="15"/><circle cx="1040" cy="940" r="15"/><circle cx="972" cy="968" r="15"/><circle cx="1040" cy="965" r="15"/>
</g>
<g stroke="#000" stroke-width="8"><path d="M443,888 H597 M686,888 H840 M928,914 H1086"/></g>
<g stroke="#000" stroke-width="8" fill="none">
<path d="M358,323 V1222 H1168"/>
<path d="M322,323 H358 M322,451 H358 M322,580 H358 M322,708 H358 M322,836 H358 M322,965 H358 M322,1093 H358 M322,1222 H358"/>
<path d="M520,1222 V1260 M763,1222 V1260 M1007,1222 V1260"/>
</g>
<g font-size="76" text-anchor="end">
<text x="300" y="350">50</text><text x="300" y="478">40</text><text x="300" y="607">30</text><text x="300" y="735">20</text><text x="300" y="863">10</text><text x="300" y="992">0</text><text x="300" y="1120">-10</text><text x="300" y="1249">-20</text>
<text transform="translate(540,1319) rotate(-45)">Scr</text>
<text transform="translate(783,1319) rotate(-45)">Tln2 KO</text>
<text transform="translate(1027,1319) rotate(-45)">Tln1+Tln2 KO</text>
</g>
<text transform="translate(162,775) rotate(-90)" text-anchor="middle" font-size="78">Vessel invasion depth (µm)</text>
<path d="M528,172 H1002 M528,283 H760" stroke="#000" stroke-width="4.5"/>
<g font-size="54" text-anchor="middle">
<text x="765" y="150">P &lt; 10<tspan dy="-22" font-size="34">-16</tspan></text>
<text x="645" y="258">ns</text>
</g>
</g>

</svg>
</body></html>
